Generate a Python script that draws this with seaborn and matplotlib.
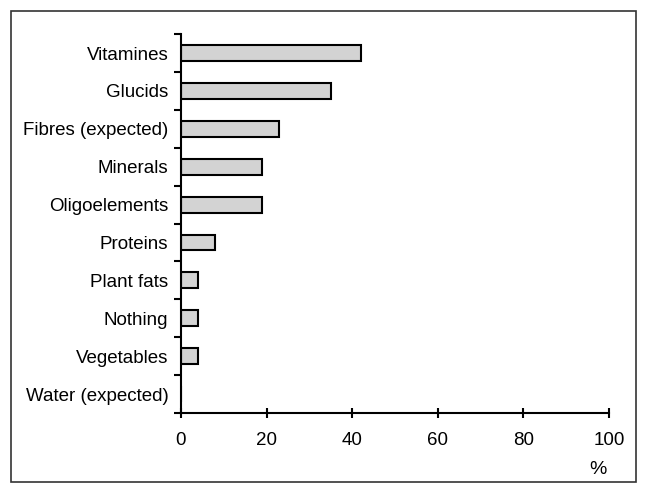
import numpy as np
import pandas as pd
import matplotlib
matplotlib.use('Agg')
import matplotlib.pyplot as plt
from matplotlib.patches import Rectangle
import seaborn as sns

# Data
categories = ['Vitamines', 'Glucids', 'Fibres (expected)', 'Minerals', 'Oligoelements',
              'Proteins', 'Plant fats', 'Nothing', 'Vegetables', 'Water (expected)']
values = [42, 35, 23, 19, 19, 8, 4, 4, 4, 0]
x_ticks = [0, 20, 40, 60, 80, 100]

df = pd.DataFrame({'cat': categories, 'val': values})

sns.set_style('white', {'xtick.bottom': True, 'ytick.left': True,
                        'text.color': 'black', 'xtick.color': 'black',
                        'ytick.color': 'black'})
plt.rcParams['font.family'] = ['Liberation Sans', 'DejaVu Sans']

fig = plt.figure(figsize=(6.45, 4.88), dpi=100)
ax = fig.add_axes([0.2806, 0.1537, 0.944 - 0.2806, 0.930 - 0.1537])

sns.barplot(data=df, x='val', y='cat', orient='h', color='#d3d3d3',
            edgecolor='black', linewidth=1.5, width=0.42, saturation=1, ax=ax)

ax.set_xlim(0, 100)
ax.set_ylim(len(categories) - 0.5, -0.5)
ax.set_xticks(x_ticks)
ax.set_xlabel('')
ax.set_ylabel('')
ax.tick_params(axis='x', direction='inout', length=7, width=1.5, labelsize=13.5, pad=10)
ax.tick_params(axis='y', which='major', length=0, labelsize=13.5, pad=9)
ax.set_yticks(np.arange(-0.5, len(categories), 1), minor=True)
ax.tick_params(axis='y', which='minor', direction='out', length=5, width=1.5)

for s in ['top', 'right']:
    ax.spines[s].set_visible(False)
for s in ['left', 'bottom']:
    ax.spines[s].set_linewidth(1.5)
    ax.spines[s].set_color('black')

fig.text(598 / 645, 1 - 470 / 488, '%', ha='center', va='center', fontsize=14)

fig.patches.append(Rectangle((11 / 645, 1 - 482 / 488), (636 - 11) / 645, (482 - 11) / 488,
                             transform=fig.transFigure, fill=False, edgecolor='#333333',
                             linewidth=1.2))

fig.savefig('out.png', dpi=100)
plt.close()
